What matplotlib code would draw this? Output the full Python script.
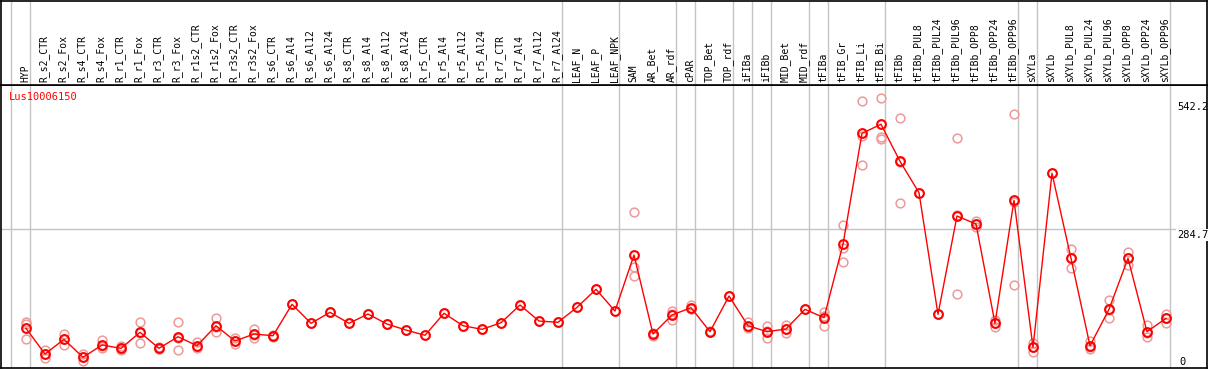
import matplotlib
matplotlib.use("Agg")
from matplotlib import pyplot as plt
import numpy as np

samples = ["HYP", "R_s2_CTR", "R_s2_Fox", "R_s4_CTR", "R_s4_Fox", "R_r1_CTR", "R_r1_Fox",
           "R_r3_CTR", "R_r3_Fox", "R_r1s2_CTR", "R_r1s2_Fox", "R_r3s2_CTR", "R_r3s2_Fox",
           "R_s6_CTR", "R_s6_Al4", "R_s6_Al12", "R_s6_Al24", "R_s8_CTR", "R_s8_Al4",
           "R_s8_Al12", "R_s8_Al24", "R_r5_CTR", "R_r5_Al4", "R_r5_Al12", "R_r5_Al24",
           "R_r7_CTR", "R_r7_Al4", "R_r7_Al12", "R_r7_Al24", "LEAF_N", "LEAF_P", "LEAF_NPK",
           "SAM", "AR_Bet", "AR_rdf", "cPAR", "TOP_Bet", "TOP_rdf", "iFIBa", "iFIBb",
           "MID_Bet", "MID_rdf", "tFIBa", "tFIB_Gr", "tFIB_Li", "tFIB_Bi", "tFIBb",
           "tFIBb_PUL8", "tFIBb_PUL24", "tFIBb_PUL96", "tFIBb_OPP8", "tFIBb_OPP24",
           "tFIBb_OPP96", "sXYLa", "sXYLb", "sXYLb_PUL8", "sXYLb_PUL24", "sXYLb_PUL96",
           "sXYLb_OPP8", "sXYLb_OPP24", "sXYLb_OPP96"]

means = [75.3, 21.1, 52.1, 14.1, 40.1, 33.1, 66.9, 33.1, 57.6, 38.6, 80.8, 48.5, 63.3,
         59.7, 126.0, 85.9, 109.1, 85.9, 105.5, 84.4, 71.7, 60.6, 107.0, 80.8, 73.2,
         87.1, 124.5, 90.7, 88.0, 119.6, 157.6, 111.8,
         230.0, 63.3, 103.4, 118.8, 68.2, 143.5, 80.8, 68.2, 73.9, 115.4, 97.7,
         252.6, 486.8, 505.8, 427.7, 361.4, 104.9, 312.3, 295.4, 85.9, 345.4,
         35.2, 402.4, 223.0, 38.6, 115.4, 223.0, 68.2, 96.4]

replicates = [[89.3, 84.4, 52.1], [29.5, 21.5, 12.5], [63.3, 40.1, 53.0], [21.1, 7.0, 14.0],
              [50.6, 33.1, 37.0], [38.0, 29.5, 32.0], [89.3, 44.9, 66.0], [35.9, 31.6, 32.0],
              [88.0, 29.5, 55.0], [47.1, 33.1, 36.0], [96.4, 66.9, 79.0], [54.2, 42.2, 49.0],
              [73.9, 54.2, 62.0], [62.0, 59.0, 58.0], [126.0], [85.9], [109.1], [85.9],
              [105.5], [84.4], [71.7], [60.6], [107.0], [80.8], [73.2], [87.1], [124.5],
              [90.7], [88.0], [119.6], [157.6], [111.8],
              [320.7, 205.3, 185.7], [59.1, 65.0, 63.0], [112.5, 92.8, 105.0],
              [124.5, 116.0, 116.0], [69.0, 67.0], [143.5], [89.3, 75.3, 78.0],
              [80.2, 54.2, 70.0], [82.3, 64.8, 74.0], [115.4], [110.4, 80.2, 102.0],
              [293.3, 245.4, 215.8], [555.6, 481.7, 419.3], [560.6, 479.6, 474.8],
              [518.4, 339.1, 425.6], [361.4], [104.9], [476.2, 147.1, 313.6],
              [301.7, 289.7, 295.0], [92.8, 78.7, 86.0], [526.8, 166.7, 342.7],
              [43.7, 26.0, 36.0], [402.4], [242.7, 201.9, 224.0], [48.5, 31.0, 36.0],
              [135.0, 96.4, 115.0], [235.7, 208.9, 224.0], [82.3, 57.6, 65.0],
              [105.5, 87.1, 97.0]]

# index of first sample in each group (vertical separators)
group_starts = [0, 1, 29, 32, 35, 36, 38, 39, 40, 42, 43, 46, 53, 54, 61]

gene = "Lus10006150"
ymax_label = 542.2
ymid_label = 284.7

W, H = 1209, 370
fig = plt.figure(figsize=(W / 100, H / 100), dpi=100)
ax = fig.add_axes([1 / W, 2 / H, 1206 / W, 283 / H])
hx = fig.add_axes([1 / W, 285 / H, 1206 / W, 84 / H])

x = np.arange(len(samples))
xlim = (-1.316, 62.158)
for a in (ax, hx):
    a.set_xlim(*xlim)
    a.set_xticks([])
    a.set_yticks([])
    for s in a.spines.values():
        s.set_color("black")
        s.set_linewidth(1.2)
    for k in group_starts:
        a.axvline(k - 0.79, color="#c4c4c4", lw=1, zorder=0)

ax.set_ylim(-8.4, 588.7)
hx.set_ylim(0, 1)

ax.axhline(ymid_label, color="#c4c4c4", lw=1, zorder=0)

mono = "DejaVu Sans Mono"
for i, name in enumerate(samples):
    hx.text(i - 0.05, 0.03, name, rotation=90, ha="center", va="bottom",
            fontsize=7, family=mono, color="black")

for i, reps in enumerate(replicates):
    ax.plot([i] * len(reps), reps, linestyle="none", marker="o", markersize=6.3,
            markerfacecolor="none", markeredgecolor="#ec9a9a", markeredgewidth=1.1, zorder=2)

ax.plot(x, means, color="red", lw=1, marker="o", markersize=6.3,
        markerfacecolor="none", markeredgecolor="red", markeredgewidth=1.5, zorder=3)

ax.text(8 / 1206, 0.958, gene, transform=ax.transAxes, color="red", fontsize=7.5,
        family=mono, ha="left", va="center")

tx = (1177 - 1) / 1206
ax.text(tx, ymax_label, f"{ymax_label:g}", transform=ax.get_yaxis_transform(),
        fontsize=7.5, family=mono, ha="left", va="center")
ax.text(tx, ymid_label - 2, f"{ymid_label:g}", transform=ax.get_yaxis_transform(),
        fontsize=7.5, family=mono, ha="left", va="top",
        bbox=dict(facecolor="white", edgecolor="none", pad=0.5))
ax.text(tx + 2 / 1206, 4, "0", transform=ax.get_yaxis_transform(),
        fontsize=7.5, family=mono, ha="left", va="center")

fig.savefig("out.png", dpi=100)
